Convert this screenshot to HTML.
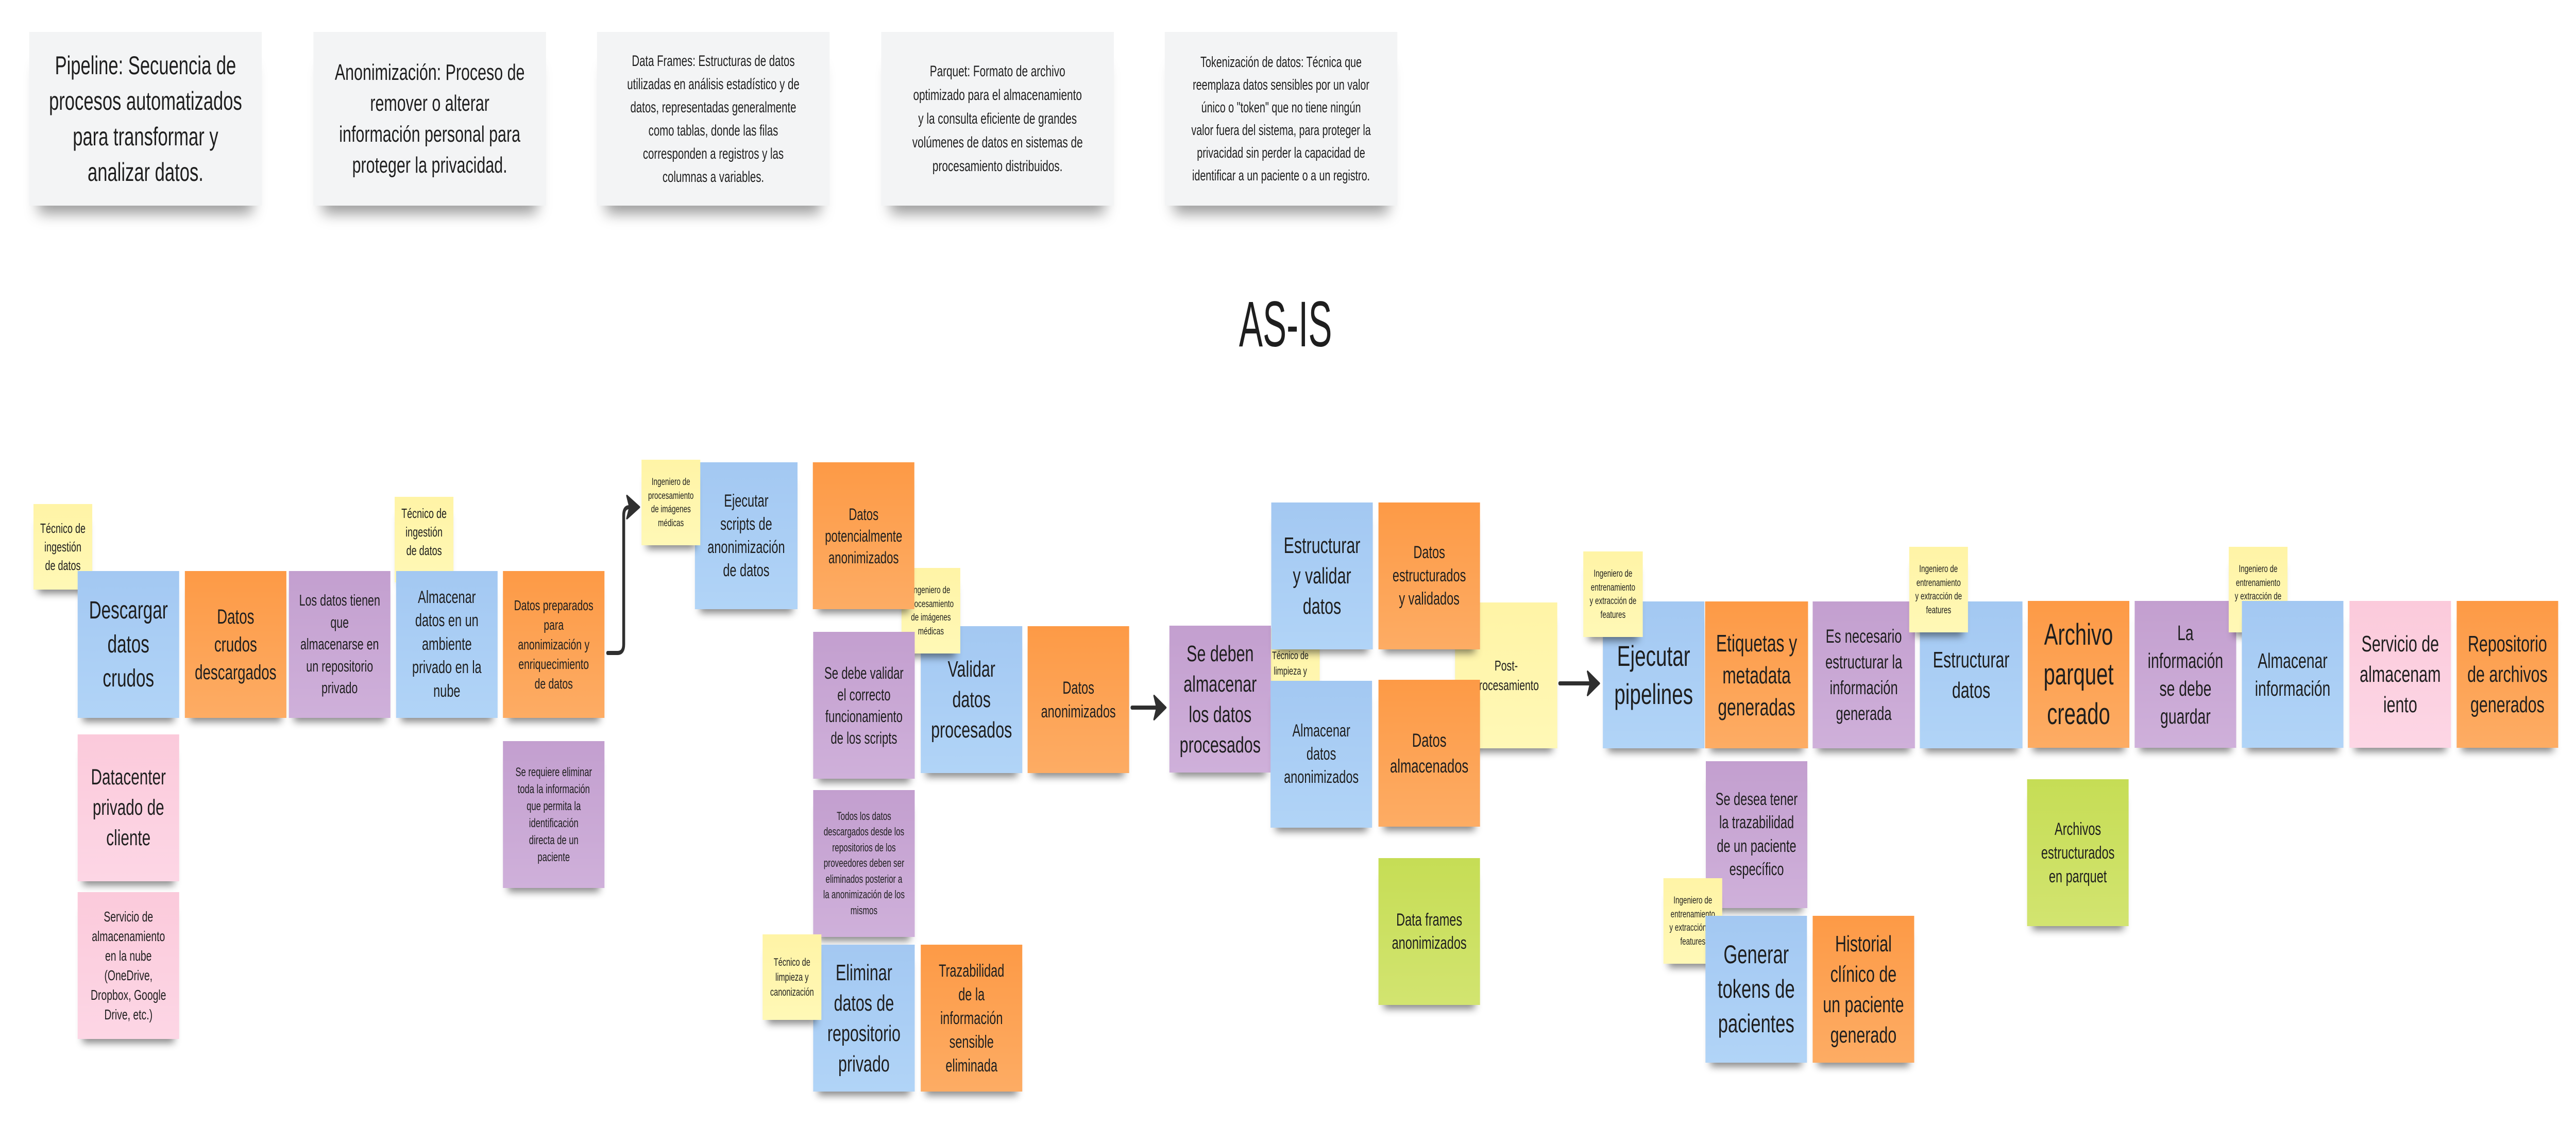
<!DOCTYPE html>
<html><head><meta charset="utf-8">
<style>
html,body{margin:0;padding:0;background:#fff;overflow:hidden;}
#w{width:7232px;height:2212px;position:absolute;left:0;top:0;transform-origin:0 0;overflow:hidden;font-family:"Liberation Sans",sans-serif;color:#1e1e1e;background:#fff;}
.c{position:absolute;width:653px;height:337px;background:#f3f4f5;display:flex;align-items:center;justify-content:center;text-align:center;box-shadow:0 42px 30px -26px rgba(0,0,0,.38);}
.s{position:absolute;width:285px;height:285px;display:flex;align-items:center;justify-content:center;text-align:center;white-space:nowrap;box-shadow:0 22px 16px -14px rgba(0,0,0,.45);}
.y.sm{width:165px;height:166px;}
.b{background:linear-gradient(180deg,#a3c8f2,#b1d4f7);}
.o{background:linear-gradient(180deg,#fd9a46,#fdac64);}
.p{background:linear-gradient(180deg,#c39fcf,#cfb0da);}
.k{background:linear-gradient(180deg,#fbcadb,#fdd6e5);}
.y{background:linear-gradient(180deg,#fff4a6,#fff8b6);}
.g{background:linear-gradient(180deg,#c6dd55,#d2e470);}
.f19{font-size:19.5px;line-height:26.5px;}
</style></head><body>
<div id="w">
<div class="c" style="left:82px;top:62px;font-size:50px;line-height:69px;">Pipeline: Secuencia de<br>procesos automatizados<br>para transformar y<br>analizar datos.</div>
<div class="c" style="left:880px;top:62px;font-size:44px;line-height:60px;">Anonimización: Proceso de<br>remover o alterar<br>información personal para<br>proteger la privacidad.</div>
<div class="c" style="left:1676px;top:62px;font-size:29.5px;line-height:45px;">Data Frames: Estructuras de datos<br>utilizadas en análisis estadístico y de<br>datos, representadas generalmente<br>como tablas, donde las filas<br>corresponden a registros y las<br>columnas a variables.</div>
<div class="c" style="left:2474px;top:62px;font-size:30px;line-height:46px;">Parquet: Formato de archivo<br>optimizado para el almacenamiento<br>y la consulta eficiente de grandes<br>volúmenes de datos en sistemas de<br>procesamiento distribuidos.</div>
<div class="c" style="left:3270px;top:62px;font-size:28.5px;line-height:44px;">Tokenización de datos: Técnica que<br>reemplaza datos sensibles por un valor<br>único o "token" que no tiene ningún<br>valor fuera del sistema, para proteger la<br>privacidad sin perder la capacidad de<br>identificar a un paciente o a un registro.</div>

<div style="position:absolute;left:3409px;top:560px;width:400px;text-align:center;font-size:125px;line-height:140px;transform:scaleX(0.8);">AS-IS</div>

<div class="s y sm" style="left:94px;top:978px;font-size:26px;line-height:36px;">Técnico de<br>ingestión<br>de datos</div>
<div class="s b" style="left:218px;top:1108px;font-size:48px;line-height:66px;">Descargar<br>datos<br>crudos</div>
<div class="s o" style="left:519px;top:1108px;font-size:40px;line-height:54px;">Datos<br>crudos<br>descargados</div>
<div class="s p" style="left:811px;top:1108px;font-size:31px;line-height:42.5px;">Los datos tienen<br>que<br>almacenarse en<br>un repositorio<br>privado</div>
<div class="s y sm" style="left:1108px;top:964px;font-size:26px;line-height:36px;align-items:flex-start;padding-top:14px;box-sizing:border-box;">Técnico de<br>ingestión<br>de datos</div>
<div class="s b" style="left:1112px;top:1108px;font-size:34px;line-height:45.5px;">Almacenar<br>datos en un<br>ambiente<br>privado en la<br>nube</div>
<div class="s o" style="left:1412px;top:1108px;font-size:28px;line-height:38px;">Datos preparados<br>para<br>anonimización y<br>enriquecimiento<br>de datos</div>
<div class="s k" style="left:218px;top:1425px;font-size:43px;line-height:59px;">Datacenter<br>privado de<br>cliente</div>
<div class="s k" style="left:218px;top:1731px;font-size:28px;line-height:38px;">Servicio de<br>almacenamiento<br>en la nube<br>(OneDrive,<br>Dropbox, Google<br>Drive, etc.)</div>
<div class="s p" style="left:1412px;top:1438px;font-size:24px;line-height:33px;">Se requiere eliminar<br>toda la información<br>que permita la<br>identificación<br>directa de un<br>paciente</div>

<div class="s b" style="left:1951px;top:897px;width:288px;font-size:34px;line-height:45px;">Ejecutar<br>scripts de<br>anonimización<br>de datos</div>
<div class="s y sm f19" style="left:1801px;top:892px;">Ingeniero de<br>procesamiento<br>de imágenes<br>médicas</div>
<div class="s b" style="left:2585px;top:1215px;font-size:44px;line-height:59px;">Validar<br>datos<br>procesados</div>
<div class="s y sm f19" style="left:2531px;top:1102px;">Ingeniero de<br>procesamiento<br>de imágenes<br>médicas</div>
<div class="s o" style="left:2282px;top:897px;font-size:32px;line-height:42px;">Datos<br>potencialmente<br>anonimizados</div>
<div class="s p" style="left:2283px;top:1226px;font-size:32px;line-height:42px;">Se debe validar<br>el correcto<br>funcionamiento<br>de los scripts</div>
<div class="s o" style="left:2885px;top:1215px;font-size:34px;line-height:46px;">Datos<br>anonimizados</div>
<div class="s p" style="left:2283px;top:1533px;font-size:22px;line-height:30.4px;">Todos los datos<br>descargados desde los<br>repositorios de los<br>proveedores deben ser<br>eliminados posterior a<br>la anonimización de los<br>mismos</div>
<div class="s b" style="left:2283px;top:1833px;font-size:44px;line-height:59px;">Eliminar<br>datos de<br>repositorio<br>privado</div>
<div class="s y sm" style="left:2141px;top:1813px;font-size:21px;line-height:29px;">Técnico de<br>limpieza y<br>canonización</div>
<div class="s o" style="left:2585px;top:1833px;font-size:34px;line-height:46px;">Trazabilidad<br>de la<br>información<br>sensible<br>eliminada</div>

<div class="s y sm" style="left:3540px;top:1219px;height:168px;font-size:21px;line-height:30px;">Técnico de<br>limpieza y<br>canonización</div>
<div class="s p" style="left:3283px;top:1214px;font-size:44px;line-height:59px;">Se deben<br>almacenar<br>los datos<br>procesados</div>
<div class="s b" style="left:3569px;top:975px;font-size:44px;line-height:59px;">Estructurar<br>y validar<br>datos</div>
<div class="s b" style="left:3567px;top:1321px;font-size:34px;line-height:45px;">Almacenar<br>datos<br>anonimizados</div>
<div class="s y" style="left:4085px;top:1169px;width:287px;height:283px;font-size:28px;line-height:38px;">Post-<br>procesamiento</div>
<div class="s o" style="left:3870px;top:975px;font-size:34px;line-height:45px;">Datos<br>estructurados<br>y validados</div>
<div class="s o" style="left:3870px;top:1319px;font-size:37px;line-height:50px;">Datos<br>almacenados</div>
<div class="s g" style="left:3870px;top:1665px;font-size:34px;line-height:45px;">Data frames<br>anonimizados</div>

<div class="s b" style="left:4500px;top:1167px;font-size:56px;line-height:74px;">Ejecutar<br>pipelines</div>
<div class="s y sm f19" style="left:4445px;top:1070px;width:167px;">Ingeniero de<br>entrenamiento<br>y extracción de<br>features</div>
<div class="s o" style="left:4787px;top:1167px;width:289px;font-size:46px;line-height:62px;">Etiquetas y<br>metadata<br>generadas</div>
<div class="s p" style="left:5089px;top:1167px;width:287px;font-size:37px;line-height:50px;">Es necesario<br>estructurar la<br>información<br>generada</div>
<div class="s b" style="left:5390px;top:1167px;width:288px;font-size:44px;line-height:59px;">Estructurar<br>datos</div>
<div class="s y sm f19" style="left:5360px;top:1061px;">Ingeniero de<br>entrenamiento<br>y extracción de<br>features</div>
<div class="s o" style="left:5693px;top:1166px;font-size:58px;line-height:77px;">Archivo<br>parquet<br>creado</div>
<div class="s p" style="left:4789px;top:1477px;font-size:34px;line-height:45.5px;">Se desea tener<br>la trazabilidad<br>de un paciente<br>específico</div>
<div class="s y sm f19" style="left:4670px;top:1704px;">Ingeniero de<br>entrenamiento<br>y extracción de<br>features</div>
<div class="s b" style="left:4788px;top:1777px;font-size:50px;line-height:67px;">Generar<br>tokens de<br>pacientes</div>
<div class="s o" style="left:5089px;top:1777px;font-size:44px;line-height:59px;">Historial<br>clínico de<br>un paciente<br>generado</div>
<div class="s g" style="left:5691px;top:1512px;font-size:34px;line-height:46px;">Archivos<br>estructurados<br>en parquet</div>

<div class="s p" style="left:5993px;top:1166px;font-size:41px;line-height:54px;">La<br>información<br>se debe<br>guardar</div>
<div class="s y sm f19" style="left:6257px;top:1061px;">Ingeniero de<br>entrenamiento<br>y extracción de<br>features</div>
<div class="s b" style="left:6294px;top:1166px;font-size:41px;line-height:54px;">Almacenar<br>información</div>
<div class="s k" style="left:6596px;top:1166px;font-size:44px;line-height:59px;">Servicio de<br>almacenam<br>iento</div>
<div class="s o" style="left:6897px;top:1166px;font-size:44px;line-height:59px;">Repositorio<br>de archivos<br>generados</div>

<svg style="position:absolute;left:0;top:0;" width="7232" height="2212" viewBox="0 0 7232 2212">
<g fill="none" stroke="#2f2f2f" stroke-width="8" stroke-linecap="round" stroke-linejoin="round">
<path d="M1706 1267 H1734 Q1751 1267 1751 1250 V1000 Q1751 984 1767 984 H1775"/>
<path d="M3178 1373 H3255"/>
<path d="M4379 1326 H4472"/>
</g>
<g fill="#2f2f2f" stroke="#2f2f2f" stroke-width="4" stroke-linejoin="round">
<polygon points="1795,984 1760,962 1768,984 1760,1006"/>
<polygon points="3273,1373 3240,1350 3248,1373 3240,1396"/>
<polygon points="4490,1326 4457,1303 4465,1326 4457,1349"/>
</g>
</svg>
</div>
<script>
(function(){
  function fit(){
    var vw = document.documentElement.clientWidth || window.innerWidth;
    var vh = window.innerHeight || document.documentElement.clientHeight;
    var sx = vw / 7232;
    if (!sx || sx <= 0) sx = 1;
    var sy = vh / 2212;
    if (!sy || sy <= 0) sy = sx;
    document.getElementById('w').style.transform = 'scale(' + sx + ',' + sy + ')';
    document.body.style.height = vh + 'px';
  }
  fit();
  window.addEventListener('resize', fit);
})();
</script>
</body></html>
